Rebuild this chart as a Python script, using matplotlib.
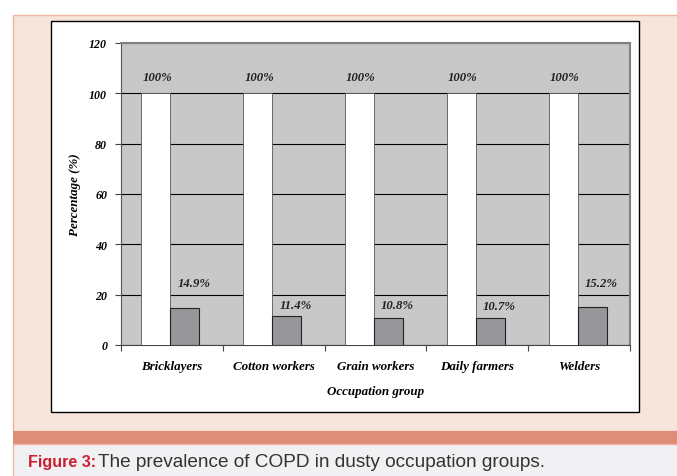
import numpy as np
import matplotlib
matplotlib.use("Agg")
import matplotlib.pyplot as plt
from matplotlib.patches import Rectangle

# data
groups = ["Bricklayers", "Cotton workers", "Grain workers", "Daily farmers", "Welders"]
total = [100, 100, 100, 100, 100]
copd = [14.9, 11.4, 10.8, 10.7, 15.2]
total_labels = ["100%", "100%", "100%", "100%", "100%"]
copd_labels = ["14.9%", "11.4%", "10.8%", "10.7%", "15.2%"]
yticks = [0, 20, 40, 60, 80, 100, 120]

serif = dict(family="Liberation Serif", weight="bold", style="italic")

fig = plt.figure(figsize=(6.77, 4.77), dpi=100)
W, H = 677.0, 477.0

def px(x0, y0, x1, y1, **kw):
    # rectangle in pixel coords (origin top-left), drawn behind the axes
    fig.patches.append(Rectangle((x0 / W, 1 - y1 / H), (x1 - x0) / W, (y1 - y0) / H,
                                 transform=fig.transFigure, zorder=-10, **kw))

# page decorations
px(13, 16, 700, 432, facecolor="#F7E4DA", edgecolor="#EFB5A0", lw=1.0)
px(13, 432, 700, 445, facecolor="#DE8E78", edgecolor="none")
px(13, 445, 700, 480, facecolor="#F1F1F3", edgecolor="#EFB5A0", lw=1.0)
px(51, 22, 639, 413, facecolor="white", edgecolor="black", lw=1.0)

ax = fig.add_axes([121 / W, 131 / H, 509 / W, 302 / H])
ax.set_facecolor("#C8C8C8")

x = np.arange(len(groups))
bw = 0.285
ax.bar(x - bw / 2 - 0.015, total, bw, color="white", edgecolor="#555555", lw=0.6, zorder=3)
ax.bar(x + bw / 2 - 0.015, copd, bw, color="#97979B", edgecolor="#222222", lw=0.8, zorder=3)

for xi, v, s in zip(x, total, total_labels):
    ax.annotate(s, (xi - bw / 2, v), xytext=(0, 11.5), textcoords="offset points",
                ha="center", va="center", fontsize=9.2, color="#222222", **serif)
lab_off = [18, 8, 9, 9, 17]   # label lift above bar top, points
for xi, v, s, o in zip(x, copd, copd_labels, lab_off):
    ax.annotate(s, (xi + bw / 2, v), xytext=(5.5, o), textcoords="offset points",
                ha="center", va="center", fontsize=9.2, color="#222222", **serif)

ax.set_ylim(0, 120)
ax.set_xlim(-0.5, len(groups) - 0.5)
ax.set_yticks(yticks)
ax.set_yticklabels([str(t) for t in yticks], fontsize=8.6, **serif)
ax.set_xticks(np.arange(len(groups) + 1) - 0.5)
ax.set_xticklabels([])
ax.set_xticks(x, minor=True)
ax.set_xticklabels(groups, minor=True, fontsize=9.4, **serif)
ax.tick_params(axis="x", which="minor", length=0, pad=11)
ax.tick_params(axis="x", which="major", length=4, width=0.8, color="#444444")
ax.tick_params(axis="y", length=4, width=0.8, color="#444444", pad=6)

ax.yaxis.grid(True, color="black", lw=0.8, zorder=1)
ax.set_axisbelow(True)
for side in ["top", "right"]:
    ax.spines[side].set_color("#808080")
    ax.spines[side].set_linewidth(1.5)
ax.spines["left"].set_color("#555555")
ax.spines["bottom"].set_color("#444444")

ax.set_ylabel("Percentage (%)", fontsize=9.4, labelpad=6, **serif)
ax.set_xlabel("Occupation group", fontsize=9.4, labelpad=9, **serif)

fig.text(28 / W, 1 - 463 / H, "Figure 3:", fontsize=11.6, color="#C8202F",
         weight="bold", family="Liberation Sans", va="center")
fig.text(98 / W, 1 - 463 / H, "The prevalence of COPD in dusty occupation groups.",
         fontsize=13.7, color="#333333", family="Liberation Sans", va="center")

fig.savefig("out.png", dpi=100)
